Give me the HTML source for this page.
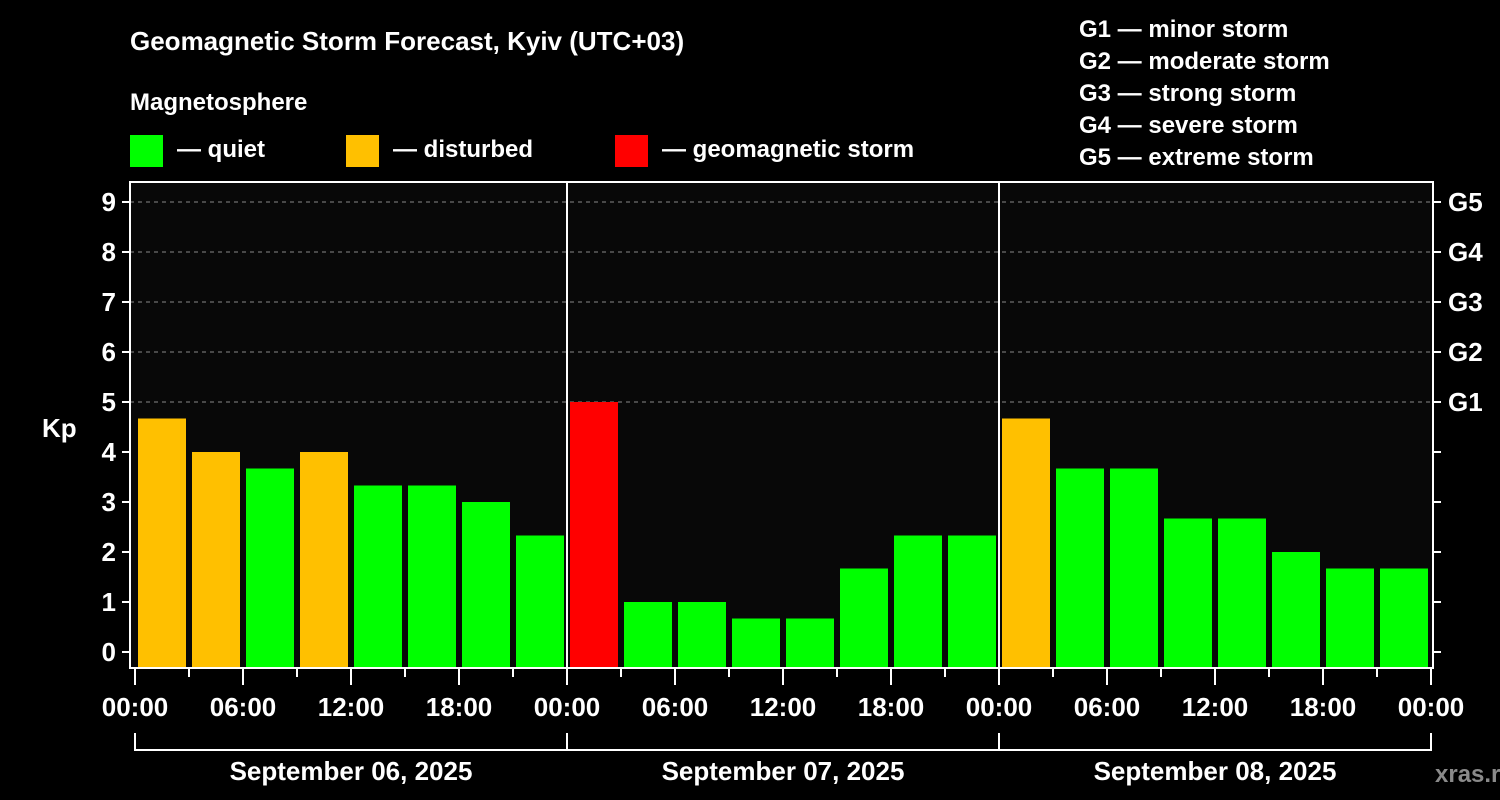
<!DOCTYPE html>
<html><head><meta charset="utf-8"><style>
body{margin:0;background:#000;width:1500px;height:800px;overflow:hidden}
svg{display:block}
text{font-family:"Liberation Sans",Arial,sans-serif;font-weight:bold;fill:#fff}
</style></head><body>
<svg id="chart" width="1500" height="800">
<text x="130" y="50" font-size="26">Geomagnetic Storm Forecast, Kyiv (UTC+03)</text>
<text x="130" y="110" font-size="24">Magnetosphere</text>
<g><rect x="130" y="135" width="33" height="32" fill="#00ff00"/><text x="177" y="157" font-size="24">— quiet</text></g>
<g><rect x="346" y="135" width="33" height="32" fill="#ffc000"/><text x="393" y="157" font-size="24">— disturbed</text></g>
<g><rect x="615" y="135" width="33" height="32" fill="#ff0000"/><text x="662" y="157" font-size="24">— geomagnetic storm</text></g>
<g font-size="24">
<text x="1079" y="37">G1 — minor storm</text>
<text x="1079" y="69">G2 — moderate storm</text>
<text x="1079" y="101">G3 — strong storm</text>
<text x="1079" y="133">G4 — severe storm</text>
<text x="1079" y="165">G5 — extreme storm</text>
</g>
<rect x="130" y="182" width="1303" height="486" fill="#080808"/>
<g id="grid"></g><g id="bars"></g><g id="axes"></g>
<text x="42" y="437" font-size="26">Kp</text>
<text x="1435" y="782" font-size="24" fill="#888" style="fill:#8a8a8a">xras.ru</text>
</svg>
<script>
const days = ["September 06, 2025","September 07, 2025","September 08, 2025"];
const hourLabels = ["00:00","06:00","12:00","18:00"];
const kpValues = [4.67,4,3.67,4,3.33,3.33,3,2.33, 5,1,1,0.67,0.67,1.67,2.33,2.33, 4.67,3.67,3.67,2.67,2.67,2,1.67,1.67];
const yTicks = [0,1,2,3,4,5,6,7,8,9];
const gLabels = ["G1","G2","G3","G4","G5"];
const NS="http://www.w3.org/2000/svg";
const x0=135, dayW=432, slotW=54, plotL=130, plotR=1433, plotT=182, plotB=668;
const yS=v=>652-50*v;
const xS=i=>x0+i*slotW;
function mk(tag,attrs,parent){const e=document.createElementNS(NS,tag);for(const k in attrs)e.setAttribute(k,attrs[k]);parent.appendChild(e);return e;}
const grid=document.getElementById('grid'),bars=document.getElementById('bars'),axes=document.getElementById('axes');
yTicks.forEach(v=>{
  if(v>=5){const l=mk('line',{x1:plotL,x2:plotR,y1:yS(v),y2:yS(v),stroke:'#888','stroke-dasharray':'4,4','stroke-width':1},grid);
  
  }
  const t=mk('line',{x1:plotL-8,x2:plotL,y1:yS(v),y2:yS(v),stroke:'#fff','stroke-width':2},axes);
  
  
  const t2=mk('line',{x1:plotR,x2:plotR+8,y1:yS(v),y2:yS(v),stroke:'#fff','stroke-width':2},axes);
  
  
  const lb=mk('text',{x:plotL-14,y:yS(v)+9,'font-size':26,'text-anchor':'end'},axes);lb.textContent=v;
  
  
});
gLabels.forEach((g,i)=>{const lb=mk('text',{x:1448,y:yS(5+i)+9,'font-size':26},axes);lb.textContent=g;
  
  });
kpValues.forEach((v,i)=>{
  const c=v>=5?'#ff0000':(v>=4?'#ffc000':'#00ff00');
  const r=mk('rect',{x:xS(i)+3,y:yS(v),width:48,height:plotB-yS(v),fill:c},bars);
  
  
});
mk('rect',{x:plotL,y:plotT,width:plotR-plotL,height:plotB-plotT,fill:'none',stroke:'#fff','stroke-width':2},axes);
for(let d=1;d<days.length;d++){const l=mk('line',{x1:x0+d*dayW,x2:x0+d*dayW,y1:plotT,y2:plotB,stroke:'#fff','stroke-width':2},axes);
  
  }
for(let i=0;i<=kpValues.length;i++){
  const major=i%2===0;
  const t=mk('line',{x1:xS(i),x2:xS(i),y1:plotB,y2:plotB+(major?17:9),stroke:'#fff','stroke-width':2},axes);
  
  
  if(major){const lb=mk('text',{x:xS(i),y:716,'font-size':26,'text-anchor':'middle'},axes);
    lb.textContent=hourLabels[(i/2)%4];
    
    }
}
days.forEach((d,i)=>{
  const a=x0+i*dayW,b=a+dayW;
  const p=mk('path',{d:`M${a},733V750H${b}V733`,stroke:'#fff','stroke-width':2,fill:'none'},axes);
  
  
  const lb=mk('text',{x:(a+b)/2,y:780,'font-size':26,'text-anchor':'middle'},axes);lb.textContent=d;
  
  
});
</script>
</body></html>
